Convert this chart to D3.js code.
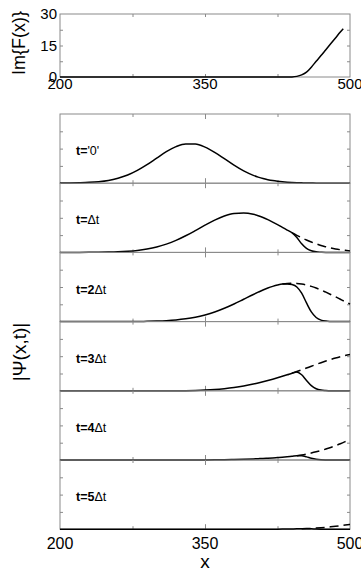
<!DOCTYPE html>
<html>
<head>
<meta charset="utf-8">
<script src="https://cdn.jsdelivr.net/npm/d3@7"></script>
<style>
  body { margin: 0; background: #fff; }
  svg { display: block; font-family: "Liberation Sans", Arial, sans-serif; }
  .frame { fill: none; stroke: #8a8a8a; stroke-width: 1; }
  .tk line { stroke: #8a8a8a; }
  .tk path { display: none; }
  .curve { fill: none; stroke: #000; stroke-width: 1.5; }
  .dash { stroke-dasharray: 9 5; }
</style>
</head>
<body>
<div id="chart"></div>
<script>
// ---- data ----
// top panel: Im{F(x)}
var fX = [200, 430, 435, 440, 445, 450, 455, 460, 465, 470, 475, 480, 485, 490, 493];
var fY = [0, 0, 0, 0.05, 0.3, 1.0, 2.3, 4.7, 7.5, 10.2, 13.0, 15.8, 18.6, 21.4, 23.0];

// shared x grid for the |Psi| panels
var xGrid = [200,210,220,230,240,250,260,270,280,290,300,310,320,330,340,350,360,370,380,390,400,
             405,410,415,420,425,430,435,440,445,450,455,460,465,470,475,480,485,490,495,500];

var t0 = [0.002,0.004,0.007,0.012,0.022,0.040,0.072,0.118,0.185,0.268,0.362,0.455,0.528,0.568,0.566,0.522,0.446,0.354,0.260,0.177,0.113,
          0.088,0.067,0.051,0.038,0.028,0.020,0.014,0.010,0.007,0.005,0.003,0.002,0.001,0.001,0,0,0,0,0,0];

var t1Free = [0,0,0,0.001,0.002,0.004,0.008,0.016,0.028,0.048,0.077,0.119,0.173,0.240,0.315,0.393,0.466,0.525,0.562,0.570,0.550,
              0.530,0.504,0.473,0.438,0.401,0.362,0.323,0.284,0.247,0.212,0.179,0.150,0.124,0.100,0.081,0.064,0.050,0.039,0.030,0.022];
var t1Abs  = [0,0,0,0.001,0.002,0.004,0.008,0.016,0.028,0.048,0.077,0.119,0.173,0.240,0.315,0.393,0.466,0.525,0.562,0.570,0.550,
              0.530,0.504,0.473,0.438,0.401,0.362,0.323,0.284,0.215,0.125,0.058,0.024,0.008,0.003,0,0,0,0,0,0];

var t2Free = [0,0,0,0,0,0,0,0.001,0.002,0.004,0.008,0.014,0.024,0.040,0.063,0.096,0.138,0.192,0.254,0.323,0.392,
              0.425,0.457,0.485,0.509,0.529,0.543,0.552,0.555,0.552,0.543,0.529,0.509,0.485,0.457,0.425,0.392,0.358,0.323,0.288,0.254];
var t2Abs  = [0,0,0,0,0,0,0,0.001,0.002,0.004,0.008,0.014,0.024,0.040,0.063,0.096,0.138,0.192,0.254,0.323,0.392,
              0.425,0.457,0.485,0.509,0.529,0.543,0.545,0.535,0.500,0.410,0.270,0.140,0.060,0.022,0.007,0.002,0,0,0,0];

var t3Free = [0,0,0,0,0,0,0,0,0,0,0,0,0.001,0.002,0.005,0.010,0.018,0.031,0.048,0.070,0.098,
              0.114,0.131,0.149,0.168,0.188,0.209,0.231,0.254,0.278,0.303,0.329,0.355,0.381,0.406,0.430,0.453,0.474,0.493,0.510,0.525];
var t3Abs  = [0,0,0,0,0,0,0,0,0,0,0,0,0.001,0.002,0.005,0.010,0.018,0.031,0.048,0.070,0.098,
              0.114,0.131,0.149,0.168,0.188,0.209,0.231,0.254,0.272,0.232,0.150,0.075,0.030,0.010,0.003,0,0,0,0,0];

var t4Free = [0,0,0,0,0,0,0,0,0,0,0,0,0,0,0,0.001,0.002,0.004,0.007,0.011,0.016,
              0.019,0.022,0.026,0.030,0.035,0.040,0.046,0.053,0.062,0.073,0.086,0.101,0.118,0.137,0.158,0.181,0.206,0.234,0.265,0.298];
var t4Abs  = [0,0,0,0,0,0,0,0,0,0,0,0,0,0,0,0.001,0.002,0.004,0.007,0.011,0.016,
              0.019,0.022,0.026,0.030,0.035,0.040,0.046,0.053,0.062,0.060,0.045,0.026,0.012,0.004,0.001,0,0,0,0,0];

var t5Free = [0,0,0,0,0,0,0,0,0,0,0,0,0,0,0,0,0,0,0,0,0,
              0,0,0,0,0.001,0.002,0.003,0.004,0.005,0.007,0.009,0.012,0.016,0.021,0.027,0.034,0.042,0.051,0.060,0.070];
var t5Abs  = [0,0,0,0,0,0,0,0,0,0,0,0,0,0,0,0,0,0,0,0,0,
              0,0,0,0,0.001,0.002,0.003,0.004,0.005,0.007,0.008,0.006,0.003,0.001,0,0,0,0,0,0];

// label per panel: bold part, plain part
var panelBold  = ["t=", "t=", "t=2", "t=3", "t=4", "t=5"];
var panelPlain = ["'0'", "\u0394t", "\u0394t", "\u0394t", "\u0394t", "\u0394t"];
var panelSolid = [t0, t1Abs, t2Abs, t3Abs, t4Abs, t5Abs];
var panelDash  = [null, t1Free, t2Free, t3Free, t4Free, t5Free];

var xLabels = [200, 350, 500];
var xMinor = [275, 350, 425];
var fTicks = [0, 15, 30];
var fMinor = [7.5, 15, 22.5];
var psiMinor = [0.25, 0.5, 0.75];

// ---- layout ----
var W = 361, H = 571;
var left = 60, right = 350;
var topT = 14, topB = 77;
var pTop = 114, pH = 69.2;

var svg = d3.select("#chart").append("svg").attr("width", W).attr("height", H);

var x = d3.scaleLinear().domain([200, 500]).range([left, right]);
var yF = d3.scaleLinear().domain([0, 30]).range([topB, topT]);

function tickLen(v) { return v === 350 ? 5 : 3; }

// ---------- top panel ----------
var gt = svg.append("g");
gt.append("rect").attr("class", "frame")
  .attr("x", left).attr("y", topT).attr("width", right - left).attr("height", topB - topT);

gt.append("g").attr("class", "tk").attr("transform", "translate(0," + topB + ")")
  .call(d3.axisBottom(x).tickValues(xMinor).tickSize(-3).tickFormat(""));
gt.append("g").attr("class", "tk").attr("transform", "translate(0," + topT + ")")
  .call(d3.axisTop(x).tickValues(xMinor).tickSize(-3).tickFormat(""));
gt.append("g").attr("class", "tk").attr("transform", "translate(" + left + ",0)")
  .call(d3.axisLeft(yF).tickValues(fMinor).tickSize(-3).tickFormat(""));
gt.append("g").attr("class", "tk").attr("transform", "translate(" + right + ",0)")
  .call(d3.axisRight(yF).tickValues(fMinor).tickSize(-3).tickFormat(""));

gt.selectAll(".flab").data(fTicks).enter().append("text")
  .attr("x", 57).attr("y", function(d){ return yF(d); }).attr("dy", "0.36em")
  .attr("text-anchor", "end").attr("font-size", 15).text(function(d){ return d; });

gt.selectAll(".xlab").data(xLabels).enter().append("text")
  .attr("x", function(d){ return x(d); }).attr("y", 88.5)
  .attr("text-anchor", "middle").attr("font-size", 15).text(function(d){ return d; });

var fData = fX.map(function(v, i){ return [v, fY[i]]; });
gt.append("path").attr("class", "curve")
  .attr("d", d3.line().x(function(d){ return x(d[0]); }).y(function(d){ return yF(d[1]); })
    .curve(d3.curveMonotoneX)(fData));

gt.append("text").attr("transform", "translate(25,43) rotate(-90)")
  .attr("text-anchor", "middle").attr("font-size", 18).text("Im{F(x)}");

// ---------- |Psi| panels ----------
var gp = svg.append("g");
panelSolid.forEach(function(series, i) {
  var y0 = pTop + i * pH;
  var y = d3.scaleLinear().domain([0, 1]).range([y0 + pH, y0]);
  var g = gp.append("g");

  g.append("rect").attr("class", "frame")
    .attr("x", left).attr("y", y0).attr("width", right - left).attr("height", pH);

  // inward ticks
  g.append("g").attr("class", "tk").attr("transform", "translate(0," + (y0 + pH) + ")")
    .call(d3.axisBottom(x).tickValues(xMinor).tickSize(-3).tickFormat(""))
    .selectAll("line").attr("y2", function(d){ return -tickLen(d); });
  g.append("g").attr("class", "tk").attr("transform", "translate(0," + y0 + ")")
    .call(d3.axisTop(x).tickValues(xMinor).tickSize(-3).tickFormat(""))
    .selectAll("line").attr("y2", function(d){ return tickLen(d); });
  g.append("g").attr("class", "tk").attr("transform", "translate(" + left + ",0)")
    .call(d3.axisLeft(y).tickValues(psiMinor).tickSize(-3).tickFormat(""));
  g.append("g").attr("class", "tk").attr("transform", "translate(" + right + ",0)")
    .call(d3.axisRight(y).tickValues(psiMinor).tickSize(-3).tickFormat(""));

  var line = d3.line()
    .x(function(d){ return x(d[0]); })
    .y(function(d){ return y(d[1]); })
    .curve(d3.curveMonotoneX);

  var free = panelDash[i];
  if (free) {
    // dashed line only where it leaves the solid one
    var start = 0;
    for (var k = 0; k < series.length; k++) {
      if (Math.abs(series[k] - free[k]) > 1e-9) { start = Math.max(0, k - 1); break; }
    }
    var dd = xGrid.map(function(v, j){ return [v, free[j]]; }).slice(start);
    g.append("path").attr("class", "curve dash").attr("d", line(dd));
  }
  var sd = xGrid.map(function(v, j){ return [v, series[j]]; });
  g.append("path").attr("class", "curve").attr("d", line(sd));

  var lab = g.append("text").attr("x", 76).attr("y", y0 + pH - 28).attr("font-size", 12.5);
  lab.append("tspan").attr("font-weight", "bold").text(panelBold[i]);
  lab.append("tspan").text(panelPlain[i]);
});

svg.selectAll(".bxlab").data(xLabels).enter().append("text")
  .attr("x", function(d){ return x(d); }).attr("y", 548.5)
  .attr("text-anchor", "middle").attr("font-size", 16).text(function(d){ return d; });

svg.append("text").attr("x", x(350)).attr("y", 568)
  .attr("text-anchor", "middle").attr("font-size", 19).text("x");

svg.append("text").attr("transform", "translate(26,352) rotate(-90)")
  .attr("text-anchor", "middle").attr("font-size", 19).text("|\u03A8(x,t)|");
</script>
</body>
</html>
